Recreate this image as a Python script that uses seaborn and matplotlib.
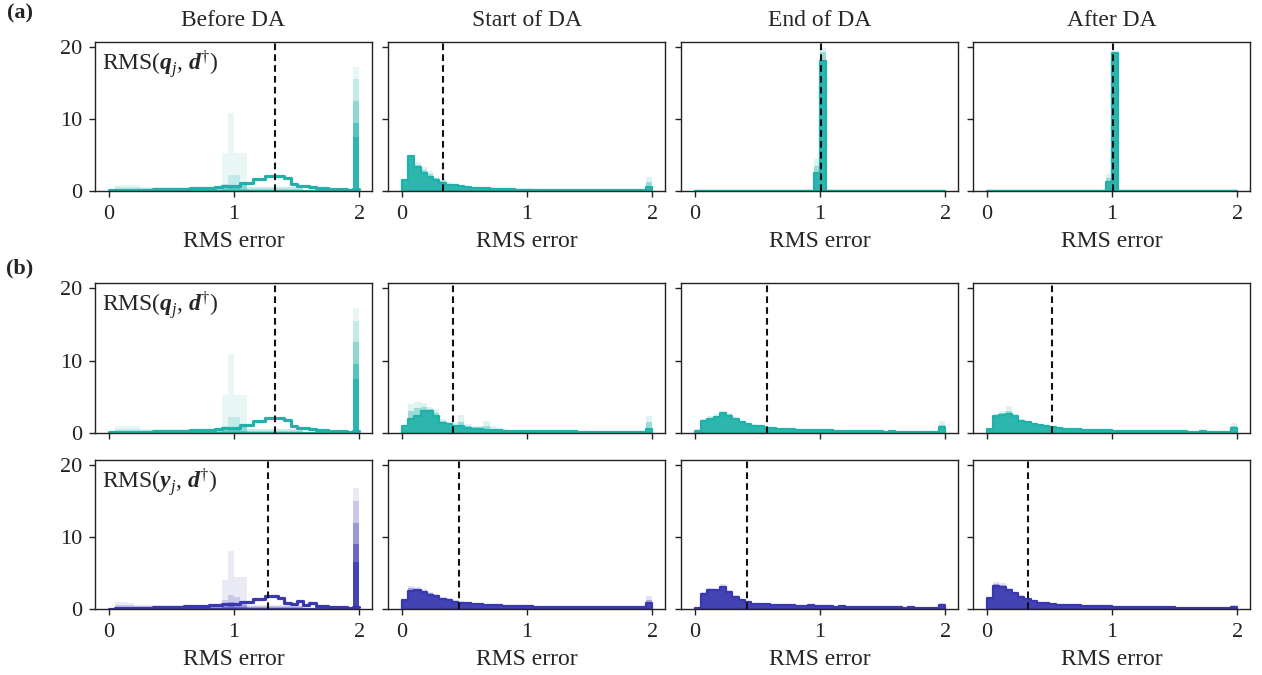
import numpy as np
import matplotlib
matplotlib.use("Agg")
import matplotlib.pyplot as plt
import seaborn as sns

# ---------------------------------------------------------------------------
# Histogram data: 40 bins of width 0.05 covering RMS error 0..2.
# Each panel has a few background (earlier-epoch) layers and one final layer.
# ---------------------------------------------------------------------------
EDGES = np.linspace(0.0, 2.0, 41)

column_titles = ["Before DA", "Start of DA", "End of DA", "After DA"]

# ---- RMS(q_j, d) : before DA (shared by rows (a) and (b)-top) -------------
before_q_final = [0.1, 0.15, 0.2, 0.2, 0.2, 0.2, 0.2, 0.25, 0.25, 0.25,
                  0.3, 0.3, 0.3, 0.35, 0.4, 0.4, 0.45, 0.5, 0.65, 0.65,
                  0.65, 1.1, 1.1, 1.6, 1.6, 2.1, 2.1, 2.1, 1.8, 1.0,
                  0.7, 0.7, 0.5, 0.4, 0.35, 0.3, 0.3, 0.25, 0.2, 0.3]
before_q_layers = [
    [0.3, 0.9, 0.9, 0.9, 0.9, 0.6, 0.6, 0.6, 0.6, 0.6,
     0.6, 0.6, 0.6, 0.6, 0.6, 0.6, 0.6, 0.6, 5.3, 10.9,
     5.3, 5.3, 0.6, 0.6, 0.6, 0.6, 0.6, 0.6, 0.6, 0.6,
     0.6, 0.3, 0.3, 0.3, 0.3, 0.3, 0.3, 0.3, 0.3, 17.2],
    [0.2, 0.5, 0.5, 0.5, 0.5, 0.4, 0.4, 0.4, 0.4, 0.4,
     0.4, 0.4, 0.4, 0.4, 0.4, 0.4, 0.4, 0.4, 1.0, 2.2,
     2.2, 1.2, 0.5, 0.5, 0.5, 0.5, 0.5, 0.5, 0.5, 0.5,
     0.5, 0.2, 0.2, 0.2, 0.2, 0.2, 0.2, 0.2, 0.2, 15.5],
    [0.1, 0.3, 0.3, 0.3, 0.3, 0.3, 0.3, 0.3, 0.3, 0.3,
     0.3, 0.3, 0.3, 0.3, 0.3, 0.3, 0.3, 0.3, 0.8, 0.8,
     0.8, 0.8, 0.3, 0.3, 0.3, 0.3, 0.3, 0.3, 0.3, 0.3,
     0.3, 0.2, 0.2, 0.2, 0.2, 0.2, 0.2, 0.2, 0.2, 12.5],
    [0.1, 0.2, 0.2, 0.2, 0.2, 0.2, 0.2, 0.2, 0.2, 0.2,
     0.2, 0.2, 0.2, 0.2, 0.2, 0.2, 0.2, 0.2, 0.3, 0.5,
     0.5, 0.3, 0.2, 0.2, 0.2, 0.2, 0.2, 0.2, 0.2, 0.2,
     0.2, 0.1, 0.1, 0.1, 0.1, 0.1, 0.1, 0.1, 0.1, 9.5],
    [0.0, 0.1, 0.1, 0.1, 0.1, 0.1, 0.1, 0.1, 0.1, 0.1,
     0.1, 0.1, 0.1, 0.1, 0.1, 0.1, 0.1, 0.1, 0.2, 0.2,
     0.2, 0.2, 0.1, 0.1, 0.1, 0.1, 0.1, 0.1, 0.1, 0.1,
     0.1, 0.1, 0.1, 0.1, 0.1, 0.1, 0.1, 0.1, 0.1, 7.5],
]

# ---- RMS(q_j, d) : row (a) -------------------------------------------------
start_qa_final = [1.5, 4.8, 3.3, 2.5, 1.95, 1.5, 1.1, 0.85, 0.8, 0.65,
                  0.6, 0.45, 0.4, 0.35, 0.3, 0.25, 0.25, 0.22, 0.2, 0.2,
                  0.15, 0.15, 0.15, 0.15, 0.15, 0.12, 0.12, 0.12, 0.12, 0.12,
                  0.1, 0.1, 0.1, 0.1, 0.1, 0.1, 0.1, 0.1, 0.1, 0.5]
start_qa_layers = [
    [1.5, 4.8, 4.0, 3.3, 2.8, 2.0, 1.6, 1.2, 1.0, 0.9,
     0.7, 0.6, 0.5, 0.5, 0.5, 0.35, 0.35, 0.35, 0.35, 0.35,
     0.35, 0.2, 0.2, 0.2, 0.2, 0.2, 0.2, 0.2, 0.2, 0.2,
     0.2, 0.2, 0.2, 0.2, 0.2, 0.2, 0.2, 0.2, 0.2, 1.9],
    [1.0, 4.5, 3.6, 2.9, 2.3, 1.8, 1.4, 1.0, 0.9, 0.75,
     0.65, 0.5, 0.45, 0.4, 0.4, 0.3, 0.3, 0.3, 0.25, 0.25,
     0.25, 0.2, 0.2, 0.2, 0.2, 0.15, 0.15, 0.15, 0.15, 0.15,
     0.15, 0.15, 0.15, 0.15, 0.15, 0.15, 0.15, 0.15, 0.15, 1.2],
]

end_qa_final = [0.0] * 19 + [2.5, 18.0] + [0.0] * 19
end_qa_layers = [
    [0.0] * 19 + [4.5, 19.9] + [0.0] * 19,
    [0.0] * 19 + [3.5, 19.3] + [0.0] * 19,
]

after_qa_final = [0.0] * 19 + [1.2, 19.2] + [0.0] * 19
after_qa_layers = [
    [0.0] * 19 + [2.4, 19.4] + [0.0] * 19,
    [0.0] * 19 + [1.8, 19.3] + [0.0] * 19,
]

# ---- RMS(q_j, d) : row (b), top ---------------------------------------------
start_qb_final = [1.0, 1.9, 2.3, 3.1, 3.1, 2.3, 1.35, 1.2, 0.9, 0.9,
                  0.7, 0.6, 0.6, 0.45, 0.4, 0.35, 0.3, 0.3, 0.3, 0.3,
                  0.3, 0.3, 0.3, 0.25, 0.25, 0.25, 0.25, 0.25, 0.2, 0.2,
                  0.2, 0.2, 0.2, 0.2, 0.15, 0.15, 0.15, 0.15, 0.15, 0.5]
start_qb_layers = [
    [0.7, 4.0, 4.3, 4.1, 3.6, 3.3, 2.0, 1.5, 1.4, 2.45,
     1.2, 1.0, 1.0, 1.6, 0.9, 0.7, 0.6, 0.45, 0.45, 0.45,
     0.45, 0.45, 0.45, 0.3, 0.3, 0.3, 0.3, 0.3, 0.3, 0.3,
     0.3, 0.3, 0.3, 0.3, 0.3, 0.3, 0.3, 0.3, 0.3, 2.3],
    [0.5, 3.0, 3.5, 3.6, 3.3, 2.8, 1.7, 1.3, 1.1, 1.5,
     1.0, 0.8, 0.8, 1.0, 0.6, 0.5, 0.45, 0.4, 0.4, 0.4,
     0.35, 0.35, 0.35, 0.3, 0.3, 0.3, 0.3, 0.25, 0.25, 0.25,
     0.25, 0.25, 0.25, 0.25, 0.2, 0.2, 0.2, 0.2, 0.2, 1.5],
]

end_qb_final = [0.3, 1.6, 1.9, 2.2, 2.8, 2.4, 2.0, 1.5, 1.2, 1.0,
                0.9, 0.75, 0.7, 0.6, 0.55, 0.5, 0.45, 0.45, 0.4, 0.4,
                0.35, 0.35, 0.3, 0.3, 0.3, 0.3, 0.25, 0.25, 0.3, 0.25,
                0.2, 0.25, 0.2, 0.2, 0.2, 0.2, 0.15, 0.2, 0.15, 0.8]
end_qb_layers = [
    [0.5, 2.0, 2.3, 2.6, 3.1, 2.8, 2.2, 1.7, 1.4, 1.2,
     1.0, 0.9, 0.8, 0.7, 0.65, 0.6, 0.55, 0.5, 0.5, 0.45,
     0.45, 0.4, 0.4, 0.35, 0.35, 0.35, 0.3, 0.3, 0.35, 0.3,
     0.3, 0.3, 0.25, 0.25, 0.25, 0.25, 0.2, 0.25, 0.2, 1.6],
    [0.4, 1.8, 2.1, 2.4, 2.9, 2.6, 2.1, 1.6, 1.3, 1.1,
     0.95, 0.8, 0.75, 0.65, 0.6, 0.55, 0.5, 0.45, 0.45, 0.4,
     0.4, 0.35, 0.35, 0.3, 0.3, 0.3, 0.3, 0.25, 0.3, 0.25,
     0.25, 0.25, 0.2, 0.2, 0.2, 0.2, 0.2, 0.2, 0.2, 1.1],
]

after_qb_final = [0.5, 2.4, 2.5, 2.6, 2.3, 1.7, 1.45, 1.2, 1.05, 0.9,
                  0.8, 0.65, 0.6, 0.55, 0.5, 0.45, 0.4, 0.4, 0.35, 0.35,
                  0.3, 0.3, 0.3, 0.3, 0.3, 0.3, 0.25, 0.25, 0.3, 0.25,
                  0.25, 0.25, 0.2, 0.2, 0.25, 0.2, 0.2, 0.2, 0.2, 0.7]
after_qb_layers = [
    [0.6, 2.6, 3.0, 3.75, 2.6, 1.9, 1.6, 1.35, 1.15, 1.0,
     0.9, 0.75, 0.7, 0.6, 0.55, 0.5, 0.45, 0.45, 0.4, 0.4,
     0.35, 0.35, 0.35, 0.35, 0.35, 0.35, 0.3, 0.3, 0.35, 0.3,
     0.3, 0.3, 0.25, 0.25, 0.3, 0.25, 0.25, 0.25, 0.25, 1.35],
    [0.55, 2.5, 2.8, 3.1, 2.45, 1.8, 1.5, 1.25, 1.1, 0.95,
     0.85, 0.7, 0.65, 0.6, 0.5, 0.45, 0.4, 0.4, 0.35, 0.35,
     0.3, 0.3, 0.3, 0.3, 0.3, 0.3, 0.25, 0.25, 0.3, 0.25,
     0.25, 0.25, 0.2, 0.2, 0.25, 0.2, 0.2, 0.2, 0.2, 1.0],
]

# ---- RMS(y_j, d) : row (b), bottom ------------------------------------------
before_y_final = [0.05, 0.1, 0.15, 0.15, 0.2, 0.2, 0.2, 0.25, 0.25, 0.25,
                  0.3, 0.3, 0.35, 0.35, 0.4, 0.45, 0.5, 0.5, 0.65, 0.65,
                  0.65, 1.0, 1.0, 1.45, 1.45, 1.75, 1.75, 1.5, 0.85, 0.65,
                  1.05, 0.55, 0.8, 0.45, 0.35, 0.3, 0.3, 0.25, 0.2, 0.3]
before_y_layers = [
    [0.2, 1.0, 1.0, 0.8, 0.6, 0.6, 0.6, 0.6, 0.6, 0.6,
     0.6, 0.6, 0.6, 0.6, 0.6, 0.6, 0.6, 0.6, 4.0, 8.1,
     4.5, 4.5, 0.6, 0.6, 0.6, 0.6, 0.6, 0.6, 0.6, 0.6,
     0.6, 0.3, 0.3, 0.3, 0.3, 0.3, 0.3, 0.3, 0.3, 16.8],
    [0.1, 0.5, 0.5, 0.5, 0.4, 0.4, 0.4, 0.4, 0.4, 0.4,
     0.4, 0.4, 0.4, 0.4, 0.4, 0.4, 0.4, 0.4, 1.2, 2.0,
     1.6, 1.0, 0.4, 0.4, 0.4, 0.4, 0.4, 0.4, 0.4, 0.4,
     0.4, 0.2, 0.2, 0.2, 0.2, 0.2, 0.2, 0.2, 0.2, 15.0],
    [0.1, 0.3, 0.3, 0.3, 0.3, 0.3, 0.3, 0.3, 0.3, 0.3,
     0.3, 0.3, 0.3, 0.3, 0.3, 0.3, 0.3, 0.3, 0.6, 1.0,
     0.8, 0.5, 0.3, 0.3, 0.3, 0.3, 0.3, 0.3, 0.3, 0.3,
     0.3, 0.2, 0.2, 0.2, 0.2, 0.2, 0.2, 0.2, 0.2, 12.0],
    [0.0, 0.2, 0.2, 0.2, 0.2, 0.2, 0.2, 0.2, 0.2, 0.2,
     0.2, 0.2, 0.2, 0.2, 0.2, 0.2, 0.2, 0.2, 0.3, 0.4,
     0.3, 0.3, 0.2, 0.2, 0.2, 0.2, 0.2, 0.2, 0.2, 0.2,
     0.2, 0.1, 0.1, 0.1, 0.1, 0.1, 0.1, 0.1, 0.1, 9.0],
    [0.0, 0.1, 0.1, 0.1, 0.1, 0.1, 0.1, 0.1, 0.1, 0.1,
     0.1, 0.1, 0.1, 0.1, 0.1, 0.1, 0.1, 0.1, 0.2, 0.2,
     0.2, 0.2, 0.1, 0.1, 0.1, 0.1, 0.1, 0.1, 0.1, 0.1,
     0.1, 0.1, 0.1, 0.1, 0.1, 0.1, 0.1, 0.1, 0.1, 6.5],
]

start_y_final = [1.2, 2.5, 2.6, 2.3, 2.0, 1.8, 1.4, 1.2, 1.0, 0.9,
                 0.8, 0.7, 0.65, 0.6, 0.55, 0.5, 0.45, 0.4, 0.4, 0.35,
                 0.35, 0.3, 0.3, 0.3, 0.3, 0.3, 0.3, 0.3, 0.25, 0.25,
                 0.25, 0.25, 0.25, 0.25, 0.25, 0.25, 0.25, 0.25, 0.25, 0.8]
start_y_layers = [
    [1.3, 3.2, 3.0, 2.8, 2.4, 2.1, 1.7, 1.5, 1.3, 1.1,
     1.0, 0.9, 0.8, 0.75, 0.7, 0.6, 0.55, 0.5, 0.5, 0.45,
     0.45, 0.4, 0.4, 0.4, 0.35, 0.35, 0.35, 0.35, 0.3, 0.3,
     0.3, 0.3, 0.3, 0.3, 0.3, 0.3, 0.3, 0.3, 0.3, 1.8],
    [1.25, 2.9, 2.8, 2.5, 2.2, 1.95, 1.55, 1.35, 1.15, 1.0,
     0.9, 0.8, 0.7, 0.65, 0.6, 0.55, 0.5, 0.45, 0.45, 0.4,
     0.4, 0.35, 0.35, 0.35, 0.3, 0.3, 0.3, 0.3, 0.3, 0.3,
     0.3, 0.3, 0.3, 0.3, 0.3, 0.3, 0.3, 0.3, 0.3, 1.3],
]

end_y_final = [0.1, 2.1, 2.6, 2.6, 3.0, 2.4, 1.7, 1.3, 1.0, 0.75,
               0.7, 0.65, 0.6, 0.55, 0.55, 0.5, 0.45, 0.45, 0.6, 0.4,
               0.35, 0.35, 0.3, 0.35, 0.3, 0.3, 0.25, 0.3, 0.25, 0.25,
               0.3, 0.25, 0.25, 0.2, 0.25, 0.2, 0.2, 0.2, 0.2, 0.5]
end_y_layers = [
    [0.2, 2.35, 2.9, 2.8, 3.5, 2.6, 1.9, 1.45, 1.1, 0.85,
     0.8, 0.75, 0.7, 0.65, 0.6, 0.55, 0.5, 0.5, 0.65, 0.45,
     0.4, 0.4, 0.35, 0.4, 0.35, 0.35, 0.3, 0.35, 0.3, 0.3,
     0.35, 0.3, 0.3, 0.25, 0.3, 0.25, 0.25, 0.25, 0.25, 0.9],
    [0.15, 2.2, 2.75, 2.7, 3.2, 2.5, 1.8, 1.35, 1.05, 0.8,
     0.75, 0.7, 0.65, 0.6, 0.55, 0.5, 0.5, 0.45, 0.6, 0.4,
     0.4, 0.35, 0.3, 0.35, 0.3, 0.3, 0.3, 0.3, 0.3, 0.25,
     0.3, 0.25, 0.25, 0.2, 0.25, 0.2, 0.2, 0.2, 0.2, 0.7],
]

after_y_final = [1.5, 3.25, 3.0, 2.65, 2.2, 1.7, 1.4, 1.1, 0.9, 0.8,
                 0.7, 0.6, 0.55, 0.55, 0.5, 0.45, 0.4, 0.4, 0.35, 0.35,
                 0.3, 0.3, 0.3, 0.3, 0.3, 0.25, 0.25, 0.25, 0.25, 0.25,
                 0.2, 0.2, 0.2, 0.2, 0.2, 0.2, 0.2, 0.2, 0.2, 0.3]
after_y_layers = [
    [1.6, 3.8, 3.65, 2.9, 2.4, 1.9, 1.55, 1.25, 1.0, 0.9,
     0.8, 0.7, 0.65, 0.6, 0.55, 0.5, 0.45, 0.45, 0.4, 0.4,
     0.35, 0.35, 0.35, 0.35, 0.35, 0.3, 0.3, 0.3, 0.3, 0.3,
     0.25, 0.25, 0.25, 0.25, 0.25, 0.25, 0.25, 0.25, 0.25, 0.55],
    [1.55, 3.5, 3.3, 2.75, 2.3, 1.8, 1.45, 1.15, 0.95, 0.85,
     0.75, 0.65, 0.6, 0.55, 0.5, 0.45, 0.4, 0.4, 0.35, 0.35,
     0.3, 0.3, 0.3, 0.3, 0.3, 0.25, 0.25, 0.25, 0.25, 0.25,
     0.2, 0.2, 0.2, 0.2, 0.2, 0.2, 0.2, 0.2, 0.2, 0.4],
]

# mean RMS error of the final layer (dashed lines), per row
means_a = [1.33, 0.33, 1.01, 1.01]
means_bq = [1.33, 0.41, 0.58, 0.52]
means_by = [1.27, 0.46, 0.42, 0.33]

TEAL = "#20b2aa"
BLUE = "#3a38b0"

rows = [
    dict(color=TEAL, means=means_a, label=r"RMS($\mathbf{q}_{\mathit{j}}$, $\mathbf{d}^{\dagger}$)",
         panels=[(before_q_layers, before_q_final), (start_qa_layers, start_qa_final),
                 (end_qa_layers, end_qa_final), (after_qa_layers, after_qa_final)]),
    dict(color=TEAL, means=means_bq, label=r"RMS($\mathbf{q}_{\mathit{j}}$, $\mathbf{d}^{\dagger}$)",
         panels=[(before_q_layers, before_q_final), (start_qb_layers, start_qb_final),
                 (end_qb_layers, end_qb_final), (after_qb_layers, after_qb_final)]),
    dict(color=BLUE, means=means_by, label=r"RMS($\mathbf{y}_{\mathit{j}}$, $\mathbf{d}^{\dagger}$)",
         panels=[(before_y_layers, before_y_final), (start_y_layers, start_y_final),
                 (end_y_layers, end_y_final), (after_y_layers, after_y_final)]),
]

# ---------------------------------------------------------------------------
sns.set_style("ticks")
plt.rcParams.update({
    "font.family": ["Liberation Serif", "DejaVu Serif"],
    "mathtext.fontset": "custom",
    "mathtext.rm": "Liberation Serif",
    "mathtext.it": "Liberation Serif:italic",
    "mathtext.bf": "Liberation Serif:italic:bold",
    "axes.edgecolor": "#222222",
    "axes.linewidth": 1.0,
    "xtick.color": "#222222",
    "ytick.color": "#222222",
    "xtick.direction": "out",
    "ytick.direction": "out",
})

W, H = 1262, 675
fig = plt.figure(figsize=(W / 100, H / 100), dpi=100)

col_left = [95, 388, 681, 973]
col_width = 277
row_top = [42, 283, 460]
row_height = [149, 150, 149]

centers = 0.5 * (EDGES[:-1] + EDGES[1:])
bin_list = EDGES.tolist()
BEFORE_ALPHAS = [0.10, 0.18, 0.32, 0.5, 0.75]
LAYER_ALPHAS = [0.15, 0.35]

for r, row in enumerate(rows):
    for c, (layers, final) in enumerate(row["panels"]):
        x0 = col_left[c] / W
        y0 = 1 - (row_top[r] + row_height[r]) / H
        ax = fig.add_axes([x0, y0, col_width / W, row_height[r] / H])
        color = row["color"]

        alphas = BEFORE_ALPHAS if c == 0 else LAYER_ALPHAS
        for heights, a in zip(layers, alphas):
            sns.histplot(x=centers, weights=np.asarray(heights), bins=bin_list,
                         element="step", fill=True, color=color, alpha=a,
                         linewidth=0, ax=ax)
        if c == 0:
            sns.histplot(x=centers, weights=np.asarray(final), bins=bin_list,
                         element="step", fill=False, color=color,
                         linewidth=2.3, ax=ax)
        else:
            sns.histplot(x=centers, weights=np.asarray(final), bins=bin_list,
                         element="step", fill=True, color=color, alpha=0.9,
                         edgecolor=color, linewidth=1.6, ax=ax)

        ax.axvline(row["means"][c], color="#111111", linestyle=(0, (3.2, 2.0)),
                   linewidth=1.5, zorder=5)

        ax.set_xlim(-0.11, 2.10)
        ax.set_ylim(0, 20.7)
        ax.set_xticks([0, 1, 2])
        ax.set_yticks([0, 10, 20])
        ax.set_ylabel("")
        ax.set_xlabel("")
        for sp in ax.spines.values():
            sp.set_visible(True)
        ax.tick_params(axis="both", length=4, width=1.0, labelsize=16)
        ax.tick_params(axis="x", pad=6)
        ax.tick_params(axis="y", pad=5)

        if c != 0:
            ax.set_yticklabels([])
        if r == 1:
            ax.set_xticklabels([])
        else:
            ax.set_xlabel("RMS error", fontsize=17, labelpad=5)

        if c == 0:
            ax.text(0.025, 0.955, row["label"], transform=ax.transAxes,
                    fontsize=17, ha="left", va="top")
        if r == 0:
            fig.text((col_left[c] + col_width / 2) / W, 1 - 21 / H, column_titles[c],
                     ha="center", va="center", fontsize=17)

fig.text(20 / W, 1 - 13 / H, "(a)", ha="center", va="center",
         fontsize=16, fontweight="bold")
fig.text(20 / W, 1 - 268 / H, "(b)", ha="center", va="center",
         fontsize=16, fontweight="bold")

fig.savefig("out.png", dpi=100)
